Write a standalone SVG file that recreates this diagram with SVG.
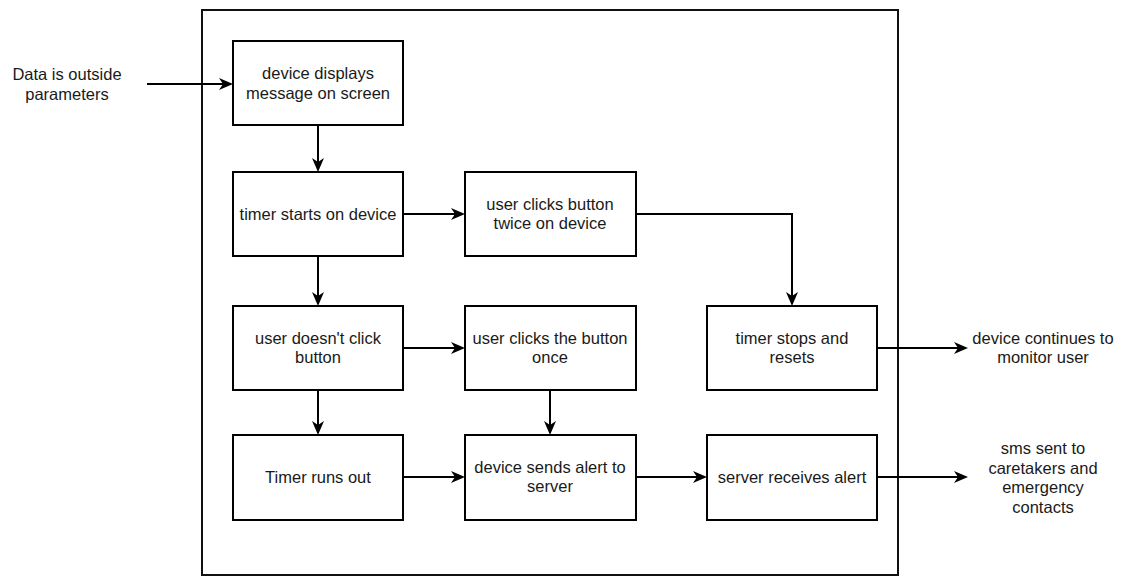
<svg xmlns="http://www.w3.org/2000/svg" width="1125" height="576" viewBox="0 0 1125 576">
<style>
  .box { fill: #ffffff; stroke: #000000; stroke-width: 2; }
  .frame { fill: #ffffff; stroke: #111111; stroke-width: 2; }
  .t { font-family: "Liberation Sans", Arial, sans-serif; font-size: 16.5px; fill: #1a1a1a; text-anchor: middle; }
  .edge { fill: none; stroke: #000000; stroke-width: 2; marker-end: url(#arr); }
</style>
<defs>
  <marker id="arr" viewBox="0 0 14 12" refX="7" refY="6" markerWidth="14" markerHeight="12" markerUnits="userSpaceOnUse" orient="auto">
    <path d="M0,0 L14,6 L0,12 L4,6 Z" fill="#000000"/>
  </marker>
</defs>
<rect width="1125" height="576" fill="#ffffff"/>
<g id="container">
  <rect class="frame" x="202" y="10" width="696" height="565"/>
</g>
<g id="connectors">
  <path class="edge" d="M147,84 L226,84"/>
  <path class="edge" d="M318,125 L318,165"/>
  <path class="edge" d="M403,214 L458,214"/>
  <path class="edge" d="M636,214 L792,214 L792,299"/>
  <path class="edge" d="M318,256 L318,299"/>
  <path class="edge" d="M403,348 L458,348"/>
  <path class="edge" d="M877,348 L961,348"/>
  <path class="edge" d="M318,390 L318,428"/>
  <path class="edge" d="M550,390 L550,428"/>
  <path class="edge" d="M403,477 L458,477"/>
  <path class="edge" d="M636,477 L700,477"/>
  <path class="edge" d="M877,477 L961,477"/>
</g>
<g id="input-label">
  <text class="t" x="67" y="80">Data is outside</text>
  <text class="t" x="67" y="100">parameters</text>
</g>
<g id="n1">
  <rect class="box" x="233" y="41" width="170" height="84"/>
  <text class="t" x="318" y="79">device displays</text>
  <text class="t" x="318" y="99">message on screen</text>
</g>
<g id="n2">
  <rect class="box" x="233" y="172" width="170" height="84"/>
  <text class="t" x="318" y="220">timer starts on device</text>
</g>
<g id="n3">
  <rect class="box" x="465" y="172" width="171" height="84"/>
  <text class="t" x="550" y="210">user clicks button</text>
  <text class="t" x="550" y="229">twice on device</text>
</g>
<g id="n4">
  <rect class="box" x="233" y="306" width="170" height="84"/>
  <text class="t" x="318" y="344">user doesn't click</text>
  <text class="t" x="318" y="363">button</text>
</g>
<g id="n5">
  <rect class="box" x="465" y="306" width="171" height="84"/>
  <text class="t" x="550" y="344">user clicks the button</text>
  <text class="t" x="550" y="363">once</text>
</g>
<g id="n6">
  <rect class="box" x="707" y="306" width="170" height="84"/>
  <text class="t" x="792" y="344">timer stops and</text>
  <text class="t" x="792" y="363">resets</text>
</g>
<g id="n7">
  <rect class="box" x="233" y="435" width="170" height="85"/>
  <text class="t" x="318" y="483">Timer runs out</text>
</g>
<g id="n8">
  <rect class="box" x="465" y="435" width="171" height="85"/>
  <text class="t" x="550" y="473">device sends alert to</text>
  <text class="t" x="550" y="492">server</text>
</g>
<g id="n9">
  <rect class="box" x="707" y="435" width="170" height="85"/>
  <text class="t" x="792" y="483">server receives alert</text>
</g>
<g id="out1">
  <text class="t" x="1043" y="344">device continues to</text>
  <text class="t" x="1043" y="363">monitor user</text>
</g>
<g id="out2">
  <text class="t" x="1043" y="454">sms sent to</text>
  <text class="t" x="1043" y="474">caretakers and</text>
  <text class="t" x="1043" y="493">emergency</text>
  <text class="t" x="1043" y="513">contacts</text>
</g>
</svg>
